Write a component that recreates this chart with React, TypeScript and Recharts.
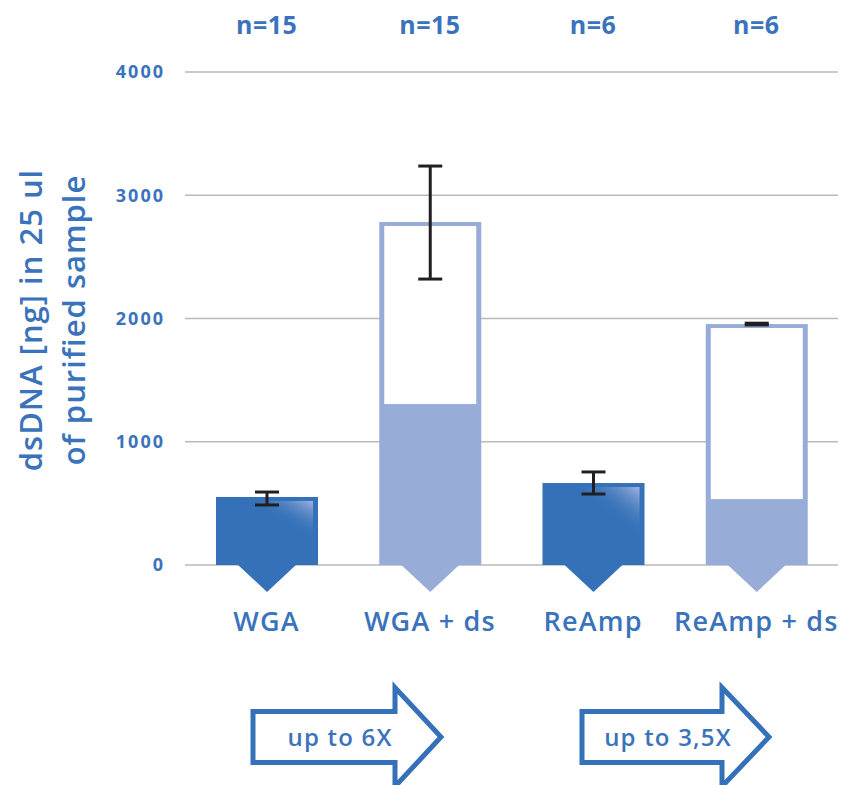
import React from 'react';
import { BarChart, Bar, XAxis, YAxis, CartesianGrid, ErrorBar } from 'recharts';

const categories = ['WGA', 'WGA + ds', 'ReAmp', 'ReAmp + ds'];
const sampleSizes = ['n=15', 'n=15', 'n=6', 'n=6'];
const totals = [552, 2783, 665, 1955];
const baseAmounts = [552, 1306, 665, 535];
const errorLow = [487, 2320, 576, 1948];
const errorHigh = [592, 3237, 755, 1962];
const withDs = [false, true, false, true];
const yTicks = [0, 1000, 2000, 3000, 4000];
const gains = ['up to 6X', 'up to 3,5X'];

const BLUE = '#3471b8';
const LIGHT = '#98acd8';
const TEXT = '#3a73bb';
const FONT = '"Open Sans", "DejaVu Sans", sans-serif';

const rows = categories.map((name, i) => ({
  name,
  base: baseAmounts[i],
  rest: totals[i] - baseAmounts[i],
  err: [totals[i] - errorLow[i], errorHigh[i] - totals[i]],
}));

function BaseShape(props: any) {
  const { x, y, width, height, index } = props;
  const ds = withDs[index];
  const color = ds ? LIGHT : BLUE;
  const cx = x + width / 2;
  const bottom = y + height;
  return (
    <g>
      <rect x={x} y={y} width={width} height={height} fill={color} />
      <polygon points={`${cx - 30},${bottom - 1} ${cx + 30},${bottom - 1} ${cx},${bottom + 27}`} fill={color} />
      {!ds && (
        <rect
          x={x + width * 0.2}
          y={y + 4}
          width={width * 0.8 - 5}
          height={Math.max(0, height - 24)}
          fill="url(#gloss)"
        />
      )}
    </g>
  );
}

function RestShape(props: any) {
  const { x, y, width, height } = props;
  if (!height || height <= 0) return <g />;
  return (
    <g>
      <rect x={x} y={y} width={width} height={height} fill={LIGHT} />
      <rect x={x + 5} y={y + 4} width={width - 10} height={height - 4} fill="#fff" />
    </g>
  );
}

function Arrow({ left, headX, tipX, label }: { left: number; headX: number; tipX: number; label: string }) {
  const mid = 737;
  return (
    <g>
      <path
        d={`M${left},${mid - 25.5} H${headX} V${mid - 49.5} L${tipX},${mid} L${headX},${mid + 49.5} V${mid + 25.5} H${left} Z`}
        fill="#fff"
        stroke={BLUE}
        strokeWidth={5}
        strokeLinejoin="miter"
      />
      <text
        x={(left + headX) / 2 + 16}
        y={mid + 9}
        textAnchor="middle"
        fontSize={24}
        fontWeight={600}
        letterSpacing={1.2}
        fill={TEXT}
        fontFamily={FONT}
      >
        {label}
      </text>
    </g>
  );
}

export default function App() {
  return (
    <div style={{ position: 'absolute', left: 0, top: 0, width: 844, height: 785, background: '#fff' }}>
      <BarChart
        width={844}
        height={785}
        data={rows}
        margin={{ top: 42, right: 6, left: 0, bottom: 140 }}
        barSize={102}
      >
        <defs>
          <linearGradient id="gloss" x1="0" y1="1" x2="1" y2="0">
            <stop offset="0" stopColor={BLUE} stopOpacity={0} />
            <stop offset="0.55" stopColor={BLUE} stopOpacity={0} />
            <stop offset="1" stopColor="#a9b6e2" stopOpacity={0.95} />
          </linearGradient>
        </defs>
        <CartesianGrid vertical={false} stroke="#b9b9b9" strokeWidth={1.5} />
        <YAxis
          width={185}
          domain={[0, 4000]}
          ticks={yTicks}
          axisLine={false}
          tickLine={false}
          tickSize={0}
          tickMargin={20}
          tick={{ fontSize: 18, fontWeight: 700, fill: TEXT, fontFamily: FONT, letterSpacing: 2 }}
        />
        <XAxis
          dataKey="name"
          axisLine={false}
          tickLine={false}
          tickSize={0}
          tickMargin={47}
          height={80}
          interval={0}
          tick={{ fontSize: 27, fontWeight: 600, fill: TEXT, fontFamily: FONT, letterSpacing: 1.2 }}
        />
        <XAxis
          xAxisId="top"
          dataKey="name"
          orientation="top"
          axisLine={false}
          tickLine={false}
          tickSize={0}
          tickMargin={38}
          height={30}
          interval={0}
          tickFormatter={(_v: any, i: number) => sampleSizes[i]}
          tick={{ fontSize: 25, fontWeight: 700, fill: TEXT, fontFamily: FONT, letterSpacing: 0.5 }}
        />
        <Bar dataKey="base" stackId="a" shape={BaseShape} isAnimationActive={false} />
        <Bar dataKey="rest" stackId="a" shape={RestShape} isAnimationActive={false}>
          <ErrorBar dataKey="err" width={12} stroke="#231f20" strokeWidth={3} isAnimationActive={false} />
        </Bar>
      </BarChart>
      <svg
        width={844}
        height={785}
        style={{ position: 'absolute', left: 0, top: 0, pointerEvents: 'none' }}
      >
        <g fontFamily={FONT} fill={TEXT} fontSize={31} fontWeight={600} letterSpacing={1}>
          <text transform="rotate(-90)" x={-320} y={42} textAnchor="middle">
            dsDNA [ng] in 25 ul
          </text>
          <text transform="rotate(-90)" x={-320} y={85} textAnchor="middle">
            of purified sample
          </text>
        </g>
        <Arrow left={253} headX={395} tipX={441} label={gains[0]} />
        <Arrow left={582} headX={722} tipX={769} label={gains[1]} />
      </svg>
    </div>
  );
}
